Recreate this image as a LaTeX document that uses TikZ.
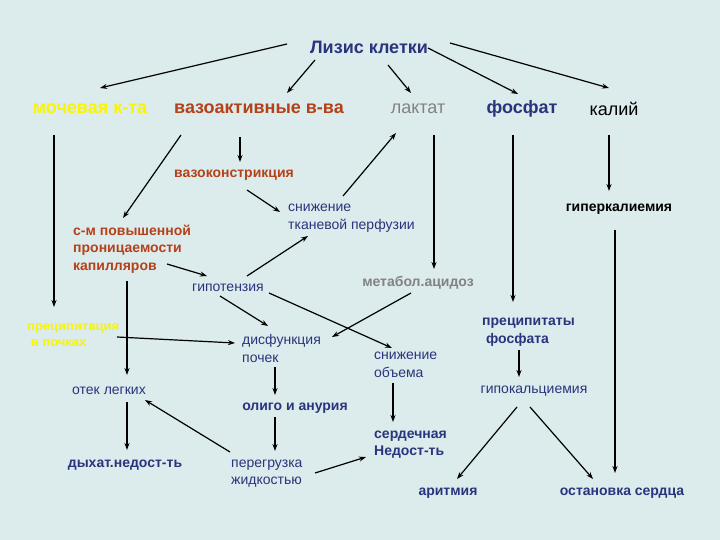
\documentclass[tikz,border=0pt]{standalone}
\usepackage{fontspec}
\setmainfont{Liberation Sans}
\usetikzlibrary{arrows.meta}
\definecolor{bg}{RGB}{220,235,235}
\definecolor{navy}{RGB}{42,52,125}
\definecolor{brick}{RGB}{180,65,25}
\definecolor{greyt}{RGB}{130,130,130}
\definecolor{yel}{RGB}{250,245,0}
\begin{document}
\begin{tikzpicture}[x=1pt,y=-1pt,
  every node/.style={inner sep=0pt},
  big/.style={font=\fontsize{18}{21}\selectfont},
  bigb/.style={font=\fontsize{18}{21}\selectfont\bfseries},
  small/.style={font=\fontsize{14}{17.5}\selectfont, align=left},
  smallb/.style={font=\fontsize{14}{17.5}\selectfont\bfseries, align=left},
  arr/.style={-{Stealth[length=7pt,width=5pt]}, line width=1.2pt}]
\fill[bg] (0,0) rectangle (720,540);
\useasboundingbox (0,0) rectangle (720,540);
% nodes
\node[bigb, navy] (lizis) at (369,47) {Лизис клетки};
\node[bigb, yel] (moch) at (90,109) {мочевая к-та};
\node[bigb, brick] (vazo) at (259,109) {вазоактивные в-ва};
\node[big, greyt] (lakt) at (418,109) {лактат};
\node[bigb, navy] (fosf) at (522,109) {фосфат};
\node[big, black] (kal) at (614,109) {калий};
\node[smallb, brick] (vkon) at (234,175) {вазоконстрикция};
\node[small, navy, anchor=west] (snp) at (288,218) {снижение\\тканевой перфузии};
\node[smallb, black] (gkal) at (619,209) {гиперкалиемия};
\node[smallb, brick, anchor=west] (sm) at (73,249) {с-м повышенной\\проницаемости\\капилляров};
\node[smallb, greyt] (metab) at (418,283) {метабол.ацидоз};
\node[small, navy] (gipot) at (228,288) {гипотензия};
\node[font=\fontsize{13}{16.5}\selectfont\bfseries, align=left, yel, anchor=west] (uric) at (27,335) {преципитация\\\ в почках};
\node[small, navy, anchor=west] (disf) at (242,348.5) {дисфункция\\почек};
\node[smallb, navy, anchor=west] (precip) at (482,332) {преципитаты\\\ фосфата};
\node[small, navy, anchor=west] (snob) at (374,365) {снижение\\объема};
\node[small, navy] (otek) at (109,391) {отек легких};
\node[small, navy] (gipokal) at (534,391) {гипокальциемия};
\node[smallb, navy] (oligo) at (295,408) {олиго и анурия};
\node[smallb, navy, anchor=west] (serd) at (374,444.5) {сердечная\\Недост-ть};
\node[smallb, navy] (dyhat) at (125,465) {дыхат.недост-ть};
\node[small, navy, anchor=west] (pereg) at (231,473.5) {перегрузка\\жидкостью};
\node[smallb, navy] (arit) at (448,493) {аритмия};
\node[smallb, navy] (ostan) at (622,493) {остановка сердца};
% connectors
\draw[arr] ([shift={(-82,-3)}]lizis.center) -- ([shift={(10,-21)}]moch.center);
\draw[arr] ([shift={(-54,13)}]lizis.center) -- ([shift={(28,-16)}]vazo.center);
\draw[arr] ([shift={(19,18)}]lizis.center) -- ([shift={(-7,-16)}]lakt.center);
\draw[arr] ([shift={(59,1)}]lizis.center) -- ([shift={(-4,-15)}]fosf.center);
\draw[arr] ([shift={(81,-4)}]lizis.center) -- ([shift={(-5,-21)}]kal.center);
\draw[arr] ([shift={(-36,26)}]moch.center) -- ([shift={(27,-28)}]uric.west);
\draw[arr] ([shift={(-78,26)}]vazo.center) -- ([shift={(50,-31)}]sm.west);
\draw[arr] ([shift={(-19,28)}]vazo.center) -- ([shift={(6,-13)}]vkon.center);
\draw[arr] ([shift={(13,15)}]vkon.center) -- ([shift={(-8,-6)}]snp.west);
\draw[arr] ([shift={(55,-22)}]snp.west) -- ([shift={(-22,24)}]lakt.center);
\draw[arr] ([shift={(16,26)}]lakt.center) -- ([shift={(16,-14)}]metab.center);
\draw[arr] ([shift={(-9,26)}]fosf.center) -- ([shift={(31,-30)}]precip.west);
\draw[arr] ([shift={(-5,26)}]kal.center) -- ([shift={(-10,-18)}]gkal.center);
\draw[arr] ([shift={(-4,21)}]gkal.center) -- ([shift={(-7,-20)}]ostan.center);
\draw[arr] ([shift={(94,15)}]sm.west) -- ([shift={(-21,-12)}]gipot.center);
\draw[arr] ([shift={(19,-12)}]gipot.center) -- ([shift={(20,18)}]snp.west);
\draw[arr] ([shift={(54,32)}]sm.west) -- ([shift={(18,-16)}]otek.center);
\draw[arr] ([shift={(90,2)}]uric.west) -- ([shift={(-7,-5.5)}]disf.west);
\draw[arr] ([shift={(-8,8)}]gipot.center) -- ([shift={(26,-22.5)}]disf.west);
\draw[arr] ([shift={(41,5)}]gipot.center) -- ([shift={(18,-17)}]snob.west);
\draw[arr] ([shift={(-7,10)}]metab.center) -- ([shift={(90,-11.5)}]disf.west);
\draw[arr] ([shift={(33,18.5)}]disf.west) -- ([shift={(-20,-13)}]oligo.center);
\draw[arr] ([shift={(-20,9)}]oligo.center) -- ([shift={(44,-22.5)}]pereg.west);
\draw[arr] ([shift={(-1,-21.5)}]pereg.west) -- ([shift={(36,9)}]otek.center);
\draw[arr] ([shift={(84,-0.5)}]pereg.west) -- ([shift={(-8,12.5)}]serd.west);
\draw[arr] ([shift={(19,18)}]snob.west) -- ([shift={(19,-22.5)}]serd.west);
\draw[arr] ([shift={(18,11)}]otek.center) -- ([shift={(2,-15)}]dyhat.center);
\draw[arr] ([shift={(37,18)}]precip.west) -- ([shift={(-15,-14)}]gipokal.center);
\draw[arr] ([shift={(-17,16)}]gipokal.center) -- ([shift={(9,-14)}]arit.center);
\draw[arr] ([shift={(-4,16)}]gipokal.center) -- ([shift={(-29,-14)}]ostan.center);
\end{tikzpicture}
\end{document}
